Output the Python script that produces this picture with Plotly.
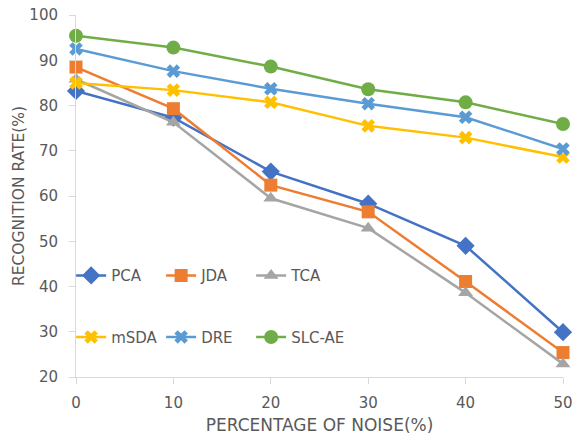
import plotly.graph_objects as go

noise = [0, 10, 20, 30, 40, 50]
pca = [83.2, 77.3, 65.4, 58.3, 49.0, 29.9]
jda = [88.5, 79.3, 62.4, 56.5, 41.1, 25.4]
tca = [85.8, 76.3, 59.5, 52.9, 38.6, 22.9]
msda = [85.0, 83.4, 80.7, 75.5, 72.9, 68.6]
dre = [92.5, 87.6, 83.7, 80.4, 77.4, 70.4]
slcae = [95.4, 92.8, 88.6, 83.6, 80.7, 75.9]

x_ticks = [0, 10, 20, 30, 40, 50]
y_ticks = [20, 30, 40, 50, 60, 70, 80, 90, 100]

# name, values, colour, marker symbol, marker size, legend (column, row)
series = [
    ("PCA", pca, "#4472C4", "diamond", 14, (0, 0)),
    ("JDA", jda, "#ED7D31", "square", 13, (1, 0)),
    ("TCA", tca, "#A5A5A5", "triangle-up", 13, (2, 0)),
    ("mSDA", msda, "#FFC000", "x", 12, (0, 1)),
    ("DRE", dre, "#5B9BD5", "x", 12, (1, 1)),
    ("SLC-AE", slcae, "#70AD47", "circle", 14, (2, 1)),
]

font_family = "DejaVu Sans, sans-serif"
text_color = "#595959"
axis_color = "#D9D9D9"

plot_width_px = 575 - 76 - 12
col_step = 90 / plot_width_px
row_y = [0.28, 0.11]

fig = go.Figure()
legend_layout = {}
for i, (name, vals, color, sym, size, (col, row)) in enumerate(series):
    leg_id = "legend" if i == 0 else f"legend{i + 1}"
    fig.add_trace(go.Scatter(
        x=noise, y=vals, name=name, mode="lines+markers",
        line=dict(color=color, width=2.5),
        marker=dict(symbol=sym, size=size, color=color, line=dict(width=0)),
        cliponaxis=False, legend=leg_id, showlegend=True,
    ))
    legend_layout[leg_id] = dict(
        x=-0.01 + col * col_step, y=row_y[row],
        xanchor="left", yanchor="middle", orientation="h",
        bgcolor="rgba(0,0,0,0)", itemwidth=30,
        font=dict(family=font_family, size=15, color=text_color),
    )

fig.update_layout(
    width=575, height=438,
    margin=dict(l=76, r=12, t=15, b=61),
    paper_bgcolor="white", plot_bgcolor="white",
    showlegend=True,
    font=dict(family=font_family, color=text_color),
    xaxis=dict(
        range=[0, 50], tickvals=x_ticks, showgrid=False, zeroline=False,
        showline=True, linecolor=axis_color, linewidth=1, automargin=False,
        ticks="outside", ticklen=6, tickcolor=axis_color, ticklabelstandoff=6,
        tickfont=dict(size=15, color=text_color),
        title=dict(text="PERCENTAGE OF NOISE(%)", font=dict(size=17, color=text_color), standoff=8),
    ),
    yaxis=dict(
        range=[20, 100], tickvals=y_ticks, showgrid=False, zeroline=False,
        showline=True, linecolor=axis_color, linewidth=1, automargin=False,
        ticks="outside", ticklen=6, tickcolor=axis_color, ticklabelstandoff=8,
        tickfont=dict(size=15, color=text_color),
        title=dict(text="RECOGNITION RATE(%)", font=dict(size=15.5, color=text_color), standoff=0),
    ),
    **legend_layout,
)

fig.write_html("out.html")
